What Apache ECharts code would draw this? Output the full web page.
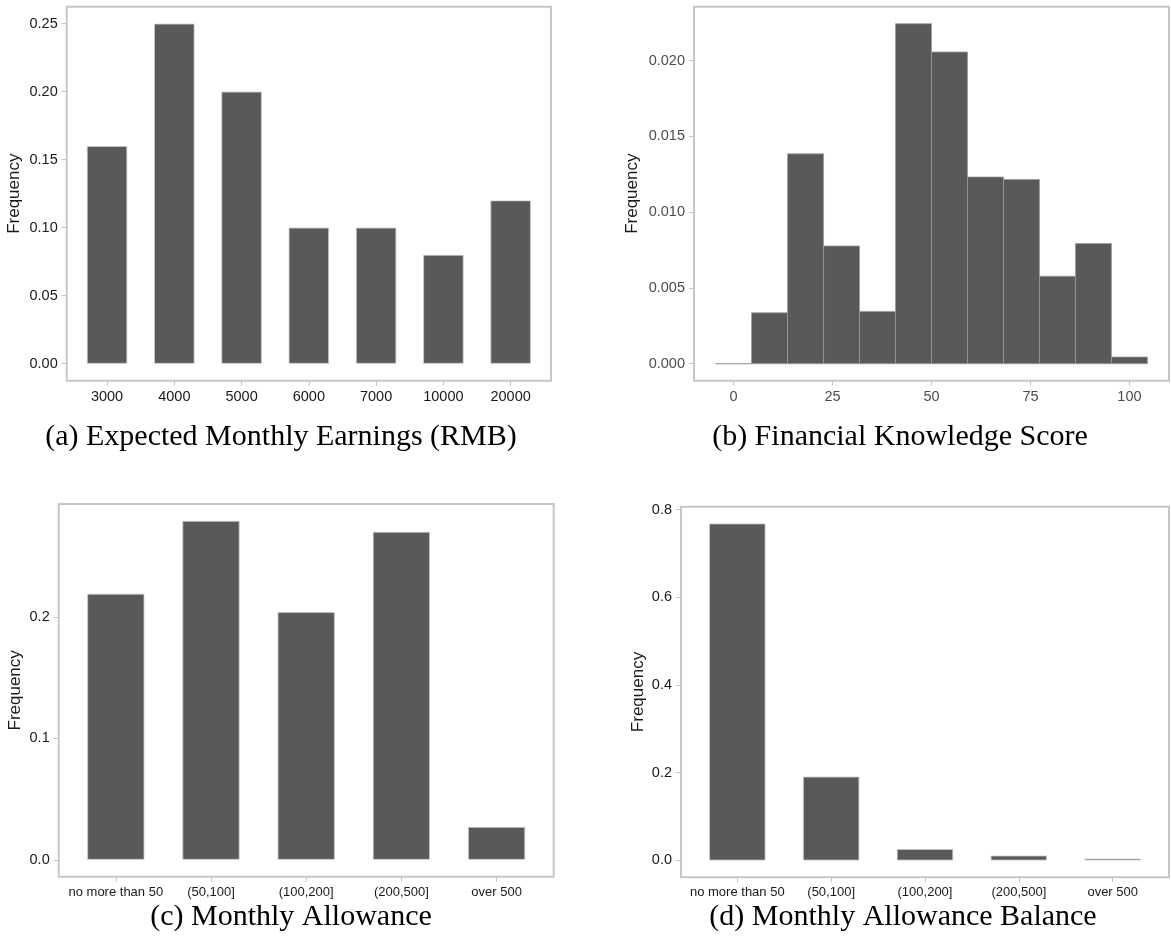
<!DOCTYPE html>
<html>
<head>
<meta charset="utf-8">
<title>Survey histograms</title>
<script src="https://cdn.jsdelivr.net/npm/echarts@6/dist/echarts.min.js"></script>
<style>
  html, body { margin: 0; padding: 0; background: #fff; }
  #main { width: 1171px; height: 951px; }
</style>
</head>
<body>
<div id="main"></div>
<script>
// (a) expected monthly earnings
var earnCats = ['3000', '4000', '5000', '6000', '7000', '10000', '20000'];
var earnFreq = [0.16, 0.25, 0.20, 0.10, 0.10, 0.08, 0.12];
var earnTicks = [0, 0.05, 0.10, 0.15, 0.20, 0.25];

// (b) financial knowledge score, 12 bins of width 100/11
var scoreBinLo = [-4.545, 4.545, 13.636, 22.727, 31.818, 40.909, 50, 59.091, 68.182, 77.273, 86.364, 95.455];
var scoreBinHi = [4.545, 13.636, 22.727, 31.818, 40.909, 50, 59.091, 68.182, 77.273, 86.364, 95.455, 104.545];
var scoreDens = [0, 0.00336, 0.01385, 0.00777, 0.00345, 0.02244, 0.02057, 0.01232, 0.01216, 0.00577, 0.00793, 0.00044];
var scoreXTicks = [0, 25, 50, 75, 100];
var scoreYTicks = [0, 0.005, 0.010, 0.015, 0.020];

// (c) monthly allowance, (d) allowance balance
var allowCats = ['no more than 50', '(50,100]', '(100,200]', '(200,500]', 'over 500'];
var allowFreq = [0.219, 0.279, 0.204, 0.270, 0.027];
var allowTicks = [0, 0.1, 0.2];
var balanceFreq = [0.768, 0.191, 0.026, 0.011, 0.004];
var balanceTicks = [0, 0.2, 0.4, 0.6, 0.8];

var captions = [
    '(a) Expected Monthly Earnings (RMB)',
    '(b) Financial Knowledge Score',
    '(c) Monthly Allowance',
    '(d) Monthly Allowance Balance'
];

var BAR = '#595959';
var FRAME = '#c6c6c6';
var sans = 'Liberation Sans, Arial, sans-serif';

function idx(arr) {
    var out = [];
    for (var i = 0; i < arr.length; i++) out.push(i);
    return out;
}

function pairs(vals) {
    var out = [];
    for (var i = 0; i < vals.length; i++) out.push([i, vals[i]]);
    return out;
}

// ggplot style padding: 5% on the value range
function padRange(lo, hi) {
    var d = (hi - lo) * 0.05;
    return [lo - d, hi + d];
}

function makeGrid(rect) {
    return {
        left: rect[0], top: rect[1], width: rect[2], height: rect[3],
        show: true, borderColor: FRAME, borderWidth: 2, backgroundColor: '#fff'
    };
}

function valueYAxis(gi, range, ticks, digits, color, nameGap) {
    return {
        type: 'value', gridIndex: gi,
        min: range[0], max: range[1],
        name: 'Frequency', nameLocation: 'middle', nameGap: nameGap, nameRotate: 90,
        nameTextStyle: { fontFamily: sans, fontSize: 17, color: '#1a1a1a' },
        axisLine: { show: false, onZero: false },
        splitLine: { show: false },
        axisTick: { show: true, length: 5, customValues: ticks, lineStyle: { color: FRAME, width: 1 } },
        axisLabel: {
            customValues: ticks, margin: 9, fontFamily: sans, fontSize: 14.5, color: color,
            formatter: function (v) { return v.toFixed(digits); }
        }
    };
}

function catXAxis(gi, cats, fontSize) {
    var n = cats.length;
    return {
        type: 'value', gridIndex: gi,
        min: -0.6, max: n - 1 + 0.6,
        axisLine: { show: false, onZero: false },
        splitLine: { show: false },
        axisTick: { show: true, length: 5, customValues: idx(cats), lineStyle: { color: FRAME, width: 1 } },
        axisLabel: {
            customValues: idx(cats), margin: 9, fontFamily: sans, fontSize: fontSize, color: '#1a1a1a',
            formatter: function (v) { return cats[Math.round(v)]; }
        }
    };
}

function barSeries(gi, vals) {
    return {
        type: 'bar', xAxisIndex: gi, yAxisIndex: gi,
        data: pairs(vals), barWidth: '60%',
        itemStyle: { color: BAR, borderColor: '#c8c8c8', borderWidth: 0.8 },
        silent: true
    };
}

var grids = [
    makeGrid([66.7, 6.7, 484.3, 374]),
    makeGrid([694, 6.7, 475, 374]),
    makeGrid([58.7, 504, 495, 372.7]),
    makeGrid([681, 506.7, 488, 370.6])
];

var option = {
    animation: false,
    backgroundColor: '#fff',
    title: [
        { text: captions[0], left: 281, top: 437 },
        { text: captions[1], left: 900, top: 437 },
        { text: captions[2], left: 291, top: 917 },
        { text: captions[3], left: 903, top: 917 }
    ].map(function (t) {
        t.textAlign = 'center';
        t.textVerticalAlign = 'middle';
        t.padding = 0;
        t.textStyle = { fontFamily: 'Liberation Serif, serif', fontWeight: 'normal', fontSize: 30, color: '#000' };
        return t;
    }),
    grid: grids,
    xAxis: [
        catXAxis(0, earnCats, 14.5),
        {
            type: 'value', gridIndex: 1, min: -10, max: 110,
            axisLine: { show: false, onZero: false }, splitLine: { show: false },
            axisTick: { show: true, length: 5, customValues: scoreXTicks, lineStyle: { color: FRAME, width: 1 } },
            axisLabel: { customValues: scoreXTicks, margin: 9, fontFamily: sans, fontSize: 14.5, color: '#4d4d4d' }
        },
        catXAxis(2, allowCats, 13),
        catXAxis(3, allowCats, 13)
    ],
    yAxis: [
        valueYAxis(0, padRange(0, 0.25), earnTicks, 2, '#1a1a1a', 44),
        valueYAxis(1, padRange(0, 0.02244), scoreYTicks, 3, '#4d4d4d', 53),
        valueYAxis(2, padRange(0, 0.279), allowTicks, 1, '#1a1a1a', 35),
        valueYAxis(3, padRange(0, 0.768), balanceTicks, 1, '#1a1a1a', 34)
    ],
    series: [
        barSeries(0, earnFreq),
        {
            type: 'custom', xAxisIndex: 1, yAxisIndex: 1, silent: true,
            data: scoreDens.map(function (d, i) { return [scoreBinLo[i], scoreBinHi[i], d]; }),
            encode: { x: [0, 1], y: 2 },
            renderItem: function (params, api) {
                var p0 = api.coord([api.value(0), api.value(2)]);
                var p1 = api.coord([api.value(1), 0]);
                return {
                    type: 'rect',
                    shape: { x: p0[0], y: p0[1], width: p1[0] - p0[0], height: p1[1] - p0[1] },
                    style: { fill: BAR, stroke: '#9a9a9a', lineWidth: 0.8 }
                };
            }
        },
        barSeries(2, allowFreq),
        barSeries(3, balanceFreq)
    ]
};

var chart = echarts.init(document.getElementById('main'), null, { renderer: 'canvas' });
chart.setOption(option);
</script>
</body>
</html>
